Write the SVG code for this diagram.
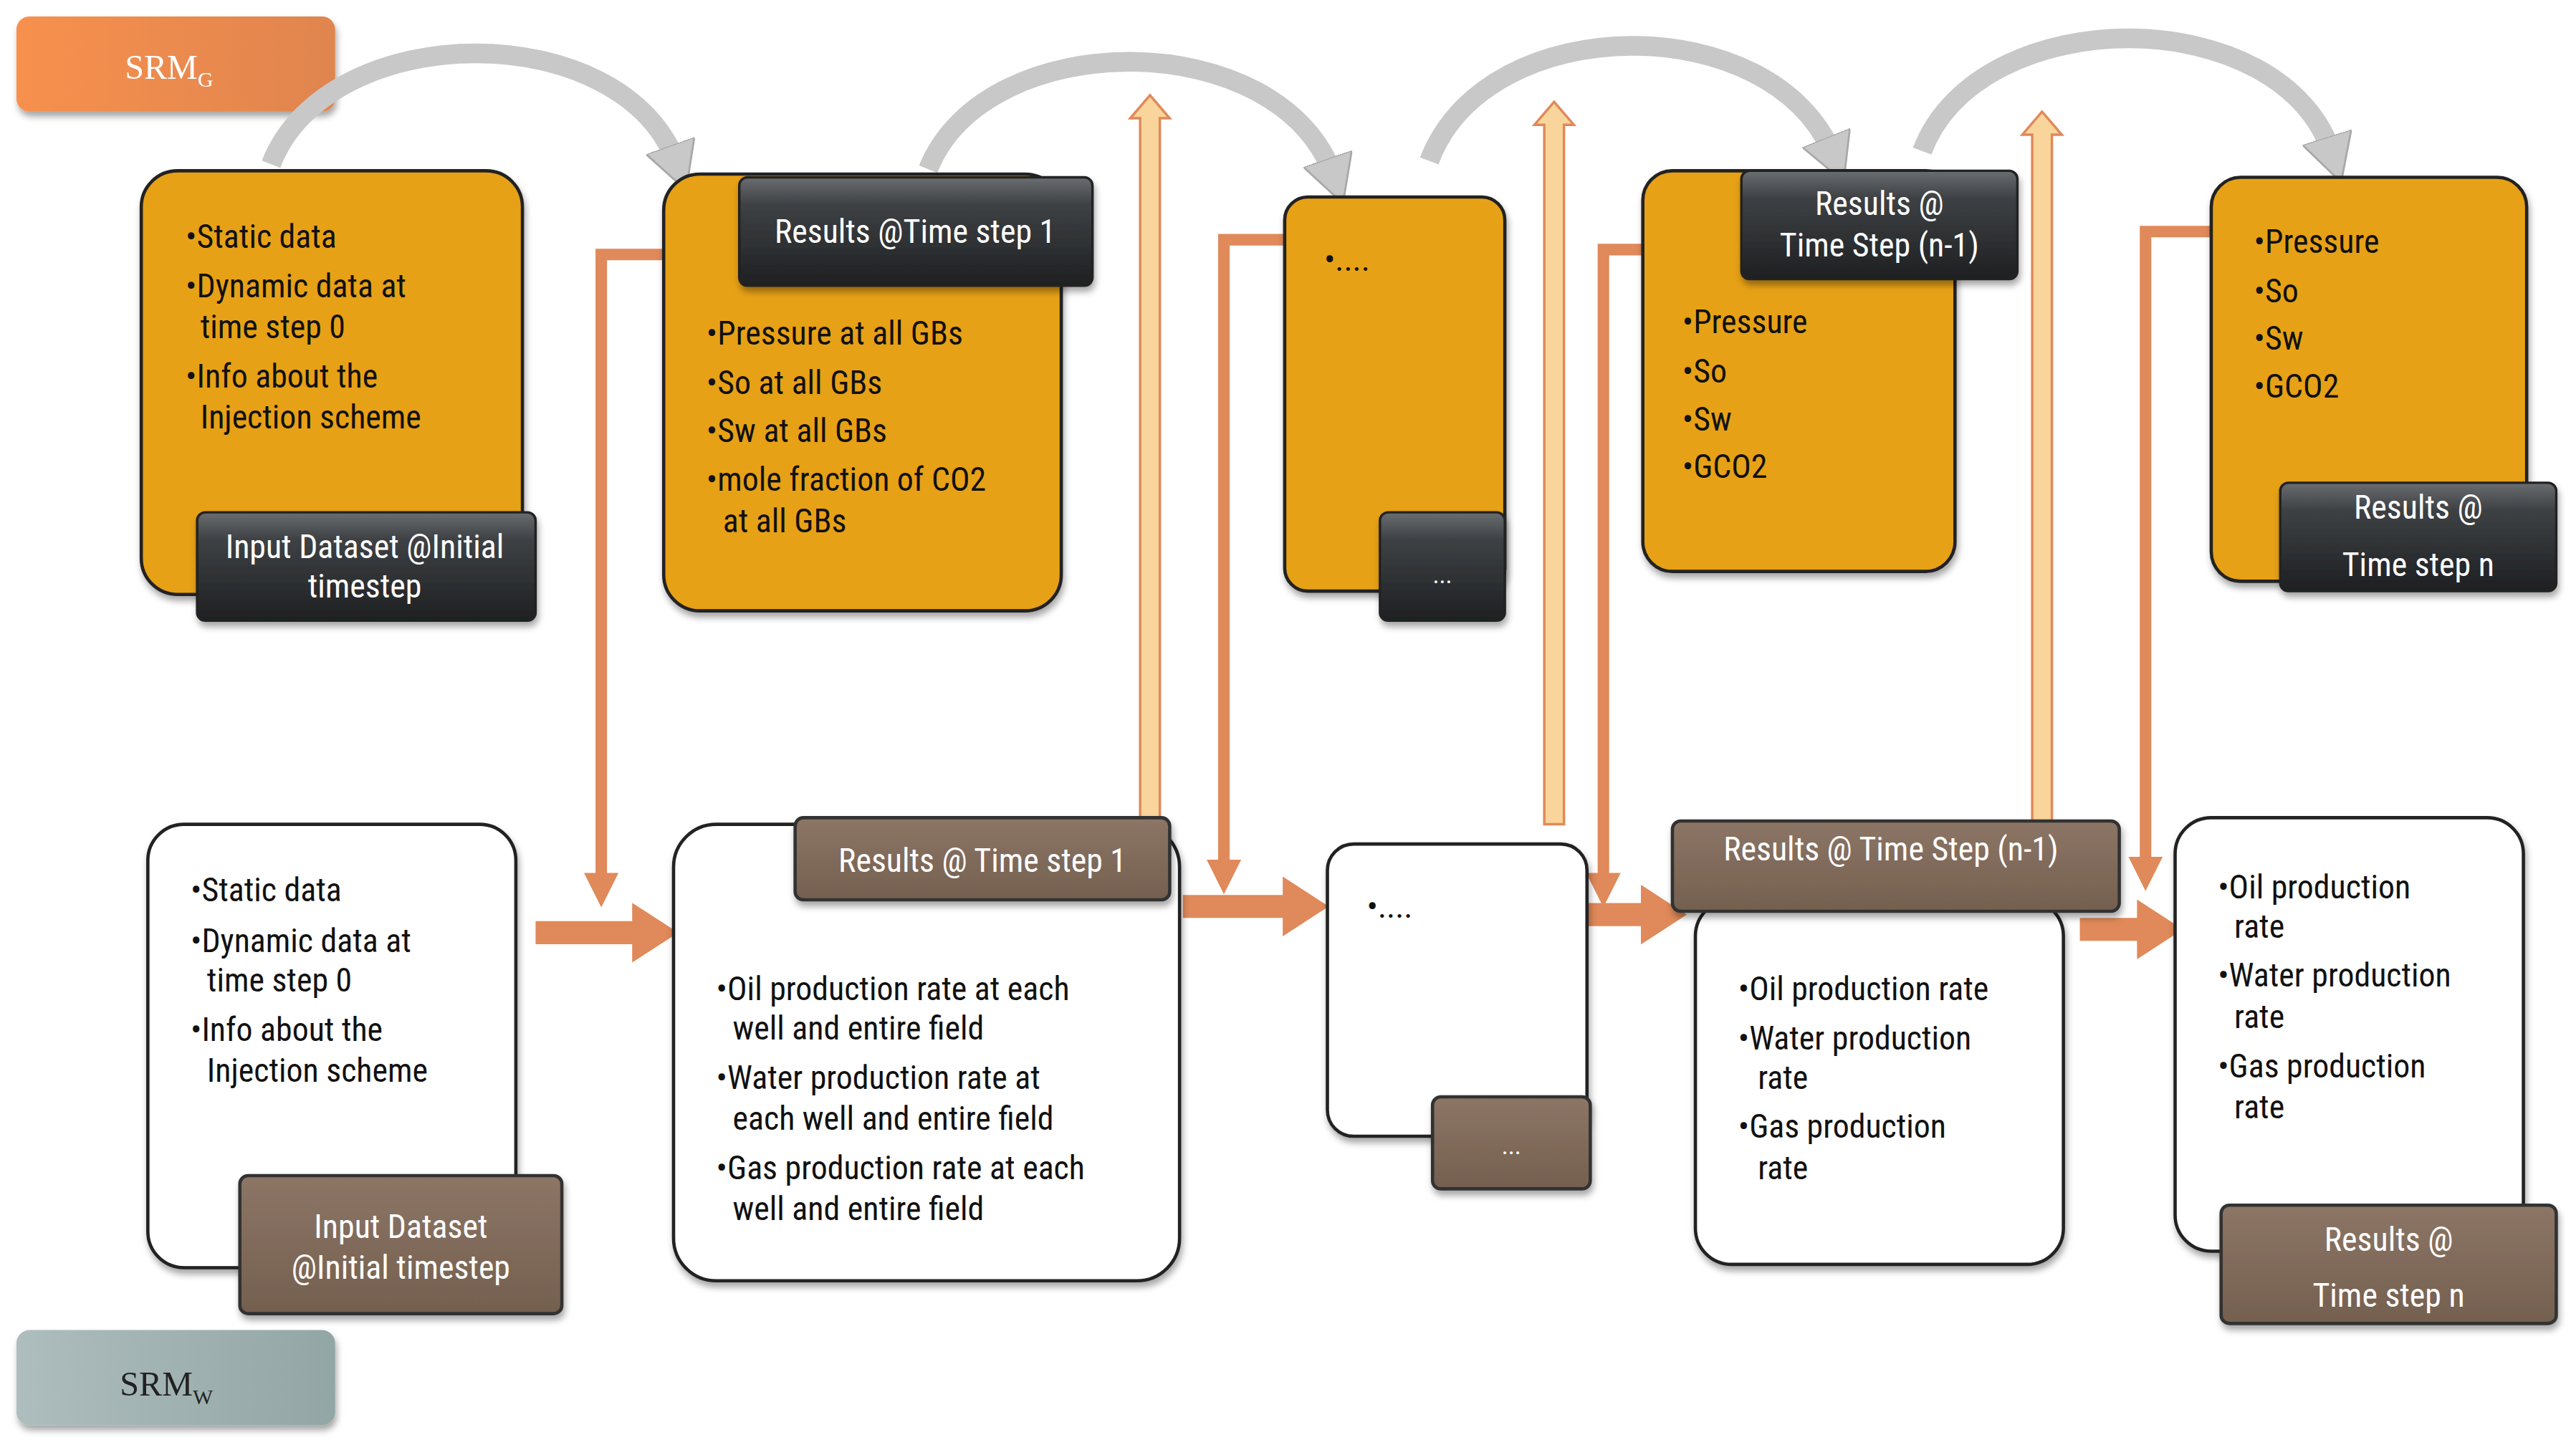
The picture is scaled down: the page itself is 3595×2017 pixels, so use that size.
<svg xmlns="http://www.w3.org/2000/svg" width="3595" height="2017" viewBox="0 0 3595 2017">
<defs>
<linearGradient id="gO" x1="0" y1="0" x2="1" y2="0"><stop offset="0" stop-color="#F7904E"/><stop offset="1" stop-color="#E0854F"/></linearGradient>
<linearGradient id="gW" x1="0" y1="0" x2="1" y2="0"><stop offset="0" stop-color="#AEBDBD"/><stop offset="1" stop-color="#93A6A6"/></linearGradient>
<linearGradient id="gD" x1="0" y1="0" x2="0" y2="1"><stop offset="0" stop-color="#6A6D70"/><stop offset="0.25" stop-color="#3E4144"/><stop offset="1" stop-color="#1E2022"/></linearGradient>
<linearGradient id="gB" x1="0" y1="0" x2="0" y2="1"><stop offset="0" stop-color="#8C7566"/><stop offset="1" stop-color="#74604F"/></linearGradient>
<marker id="ah" markerWidth="3" markerHeight="3" refX="1.2" refY="1.5" orient="auto" markerUnits="strokeWidth"><path d="M0,0 L3,1.5 L0,3 z" fill="#E0895A"/></marker>
<marker id="ab" markerWidth="2" markerHeight="2.6" refX="0.8" refY="1.3" orient="auto" markerUnits="strokeWidth"><path d="M0,0 L2,1.3 L0,2.6 z" fill="#E0895A"/></marker>
<marker id="ag" markerWidth="2.4" markerHeight="2.6" refX="1" refY="1.3" orient="auto" markerUnits="strokeWidth"><path d="M0,0 L2.4,1.3 L0,2.6 z" fill="#C8C8C8" stroke="#A8A8A8" stroke-width="0.1"/></marker>
<filter id="sh" x="-10%" y="-10%" width="130%" height="130%"><feDropShadow dx="1" dy="3" stdDeviation="2" flood-opacity="0.35"/></filter>
</defs>
<style>
.t{font-family:"Liberation Sans Narrow","Roboto Condensed","Liberation Sans",sans-serif;font-size:20px;fill:#111}
.w{font-family:"Liberation Sans Narrow","Roboto Condensed","Liberation Sans",sans-serif;font-size:20px;fill:#fff;text-anchor:middle}
.s{font-family:"Liberation Serif",serif;font-size:21px;fill:#fff}
.gbox{fill:#E7A116;stroke:#222;stroke-width:2;filter:url(#sh)}
.wbox{fill:#fff;stroke:#222;stroke-width:2;filter:url(#sh)}
.dk{fill:url(#gD);stroke:#222;stroke-width:1.5;filter:url(#sh)}
.br{fill:url(#gB);stroke:#333;stroke-width:2;filter:url(#sh)}
.el{fill:none;stroke:#E0895A;stroke-width:7;marker-end:url(#ah)}
.bl{fill:none;stroke:#E0895A;stroke-width:14;marker-end:url(#ab)}
.up{fill:#F9D59B;stroke:#E0895A;stroke-width:1.5}
.cv{fill:none;stroke:#C8C8C8;stroke-width:12;marker-end:url(#ag)}
</style>
<g transform="scale(2.2927,2.292)">
<g id="srmg"><rect x="10" y="10" width="194" height="58" rx="8" fill="url(#gO)" filter="url(#sh)"/><text class="s" x="76" y="48">SRM<tspan font-size="13" dy="5">G</tspan></text></g>
<g id="srmw"><rect x="10" y="810" width="194" height="58" rx="8" fill="url(#gW)" filter="url(#sh)"/><text class="s" x="73" y="850" style="fill:#222">SRM<tspan font-size="13" dy="5">W</tspan></text></g>

<g id="connectors">
<path class="cv" d="M165,100 C200,10 380,10 412,100"/>
<path class="cv" d="M565,103 C600,15 780,15 812,108"/>
<path class="cv" d="M870,98 C905,5 1080,5 1116,95"/>
<path class="cv" d="M1170,92 C1205,0 1390,0 1420,95"/>
<path class="el" d="M404,155 H366 V540"/>
<path class="el" d="M782,146 H745 V532"/>
<path class="el" d="M1000,152 H976 V540"/>
<path class="el" d="M1346,141 H1306 V530"/>
<path class="bl" d="M326,568 H396"/>
<path class="bl" d="M720,552 H792"/>
<path class="bl" d="M960,557 H1010"/>
<path class="bl" d="M1266,566 H1312"/>
<path class="up" d="M694,498 V72 H688 L700,58 L712,72 H706 V498 Z"/>
<path class="up" d="M940,502 V76 H934 L946,62 L958,76 H952 V502 Z"/>
<path class="up" d="M1237,505 V82 H1231 L1243,68 L1255,82 H1249 V505 Z"/>
</g>

<g id="top1"><rect class="gbox" x="86" y="104" width="232" height="258" rx="22"/>
<text class="t" x="113" y="151">•Static data</text><text class="t" x="113" y="181">•Dynamic data at</text><text class="t" x="122" y="206">time step 0</text><text class="t" x="113" y="236">•Info about the</text><text class="t" x="122" y="261">Injection scheme</text>
<rect class="dk" x="120" y="312" width="206" height="66" rx="5"/><text class="w" x="222" y="340">Input Dataset @Initial</text><text class="w" x="222" y="364">timestep</text></g>

<g id="top2"><rect class="gbox" x="404" y="106" width="242" height="266" rx="22"/>
<rect class="dk" x="450" y="108" width="215" height="66" rx="5"/><text class="w" x="557" y="148">Results @Time step 1</text>
<text class="t" x="430" y="210">•Pressure at all GBs</text><text class="t" x="430" y="240">•So at all GBs</text><text class="t" x="430" y="269">•Sw at all GBs</text><text class="t" x="430" y="299">•mole fraction of CO2</text><text class="t" x="440" y="324">at all GBs</text></g>

<g id="top3"><rect class="gbox" x="782" y="120" width="134" height="240" rx="14"/>
<text class="t" x="806" y="165">•....</text>
<rect class="dk" x="840" y="312" width="76" height="66" rx="5"/><text class="w" x="878" y="355" style="font-size:15px">...</text></g>

<g id="top4"><rect class="gbox" x="1000" y="104" width="190" height="244" rx="18"/>
<rect class="dk" x="1060" y="104" width="168" height="66" rx="5"/><text class="w" x="1144" y="131">Results @</text><text class="w" x="1144" y="156">Time Step (n-1)</text>
<text class="t" x="1024" y="203">•Pressure</text><text class="t" x="1024" y="233">•So</text><text class="t" x="1024" y="262">•Sw</text><text class="t" x="1024" y="291">•GCO2</text></g>

<g id="top5"><rect class="gbox" x="1346" y="108" width="192" height="246" rx="18"/>
<text class="t" x="1372" y="154">•Pressure</text><text class="t" x="1372" y="184">•So</text><text class="t" x="1372" y="213">•Sw</text><text class="t" x="1372" y="242">•GCO2</text>
<rect class="dk" x="1388" y="294" width="168" height="66" rx="5"/><text class="w" x="1472" y="316">Results @</text><text class="w" x="1472" y="351">Time step n</text></g>

<g id="bot1"><rect class="wbox" x="90" y="502" width="224" height="270" rx="22"/>
<text class="t" x="116" y="549">•Static data</text><text class="t" x="116" y="580">•Dynamic data at</text><text class="t" x="126" y="604">time step 0</text><text class="t" x="116" y="634">•Info about the</text><text class="t" x="126" y="659">Injection scheme</text>
<rect class="br" x="146" y="716" width="196" height="84" rx="5"/><text class="w" x="244" y="754">Input Dataset</text><text class="w" x="244" y="779">@Initial timestep</text></g>

<g id="bot2"><rect class="wbox" x="410" y="502" width="308" height="278" rx="26"/>
<rect class="br" x="484" y="498" width="228" height="50" rx="5"/><text class="w" x="598" y="531">Results @ Time step 1</text>
<text class="t" x="436" y="609">•Oil production  rate at each</text><text class="t" x="446" y="633">well and entire field</text><text class="t" x="436" y="663">•Water production  rate at</text><text class="t" x="446" y="688">each well and entire field</text><text class="t" x="436" y="718">•Gas production rate at each</text><text class="t" x="446" y="743">well and entire field</text></g>

<g id="bot3"><rect class="wbox" x="808" y="514" width="158" height="178" rx="16"/>
<text class="t" x="832" y="559">•....</text>
<rect class="br" x="872" y="668" width="96" height="56" rx="5"/><text class="w" x="920" y="703" style="font-size:15px">...</text></g>

<g id="bot4"><rect class="wbox" x="1032" y="548" width="224" height="222" rx="22"/>
<rect class="br" x="1018" y="500" width="272" height="55" rx="5"/><text class="w" x="1151" y="524">Results @ Time Step (n-1)</text>
<text class="t" x="1058" y="609">•Oil production  rate</text><text class="t" x="1058" y="639">•Water production</text><text class="t" x="1070" y="663">rate</text><text class="t" x="1058" y="693">•Gas production</text><text class="t" x="1070" y="718">rate</text></g>

<g id="bot5"><rect class="wbox" x="1324" y="498" width="212" height="264" rx="22"/>
<text class="t" x="1350" y="547">•Oil production</text><text class="t" x="1360" y="571">rate</text><text class="t" x="1350" y="601">•Water production</text><text class="t" x="1360" y="626">rate</text><text class="t" x="1350" y="656">•Gas production</text><text class="t" x="1360" y="681">rate</text>
<rect class="br" x="1352" y="734" width="204" height="72" rx="5"/><text class="w" x="1454" y="762">Results @</text><text class="w" x="1454" y="796">Time step n</text></g>
</g>
</svg>
